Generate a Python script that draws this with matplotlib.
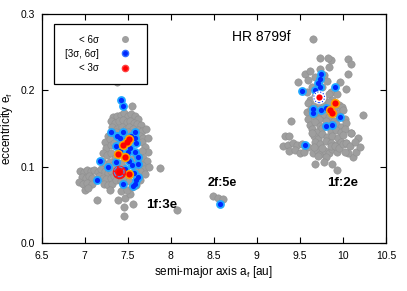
import numpy as np
import matplotlib
matplotlib.use('Agg')
import matplotlib.pyplot as plt
from matplotlib.lines import Line2D

plt.rcParams['font.family'] = ['Liberation Sans', 'DejaVu Sans']
plt.rcParams['mathtext.fontset'] = 'custom'
plt.rcParams['mathtext.rm'] = 'Liberation Sans'

# < 6 sigma solutions (grey)
grey_a = [7.37, 7.55,
          7.33, 7.38, 7.42, 7.46, 7.50, 7.54, 7.58, 7.62,
          7.30, 7.35, 7.40, 7.45, 7.49, 7.53, 7.57, 7.61, 7.65,
          7.32, 7.37, 7.43, 7.48, 7.52, 7.56, 7.62, 7.67,
          7.27, 7.31, 7.36, 7.46, 7.50, 7.64, 7.68, 7.66,
          7.23, 7.29, 7.25, 7.30, 7.34, 7.70, 7.74, 7.66,
          7.21, 7.26, 7.31, 7.35, 7.68, 7.72, 7.66,
          7.20, 7.24, 7.29, 7.33, 7.69, 7.64,
          6.95, 6.99, 7.03, 7.07, 7.11, 7.15, 7.19, 7.23, 7.27, 7.31,
          6.97, 7.01, 7.05, 7.09, 7.17, 7.21, 7.25, 7.30, 7.34,
          6.93, 6.98, 7.03, 7.08, 7.22, 7.27, 7.32,
          7.00, 7.04, 7.29, 7.36, 7.42, 7.47, 7.52,
          7.14, 7.39, 7.47, 7.456, 7.456, 7.53, 7.56, 7.42, 7.49, 7.55,
          7.60, 7.64, 7.70, 7.87, 7.75, 8.07,
          7.40, 7.45, 7.55, 7.58, 7.42, 7.50, 7.71, 7.73,
          8.49, 8.55, 8.61,
          9.656, 9.74, 9.86, 10.06, 10.09, 9.84, 9.73, 10.06, 9.48, 9.56,
          9.97, 10.04, 9.62, 9.68, 9.60, 9.78, 9.82, 9.64, 9.76, 9.58,
          9.86, 9.93, 9.83,
          9.62, 9.68, 9.78, 9.84, 9.88,
          9.60, 9.66, 9.72, 9.78, 9.84, 9.95, 9.99,
          9.58, 9.63, 9.70, 9.76, 9.82, 9.90, 9.96, 10.00,
          9.59, 9.66, 9.72, 9.78, 9.84, 9.90, 9.95, 10.02,
          9.62, 9.68, 9.74, 9.80, 9.86, 9.92, 9.98, 10.04,
          9.64, 9.70, 9.76, 9.92, 9.98, 10.03,
          9.66, 9.71, 9.76, 9.82, 9.88, 9.94, 10.00, 10.10,
          9.68, 9.74, 9.80, 9.86, 9.92, 9.98, 10.04,
          9.40, 9.33, 9.38, 9.31, 9.36, 9.42, 9.47, 9.52, 9.38, 9.44,
          9.50, 9.55, 9.60, 9.64,
          9.65, 9.70, 9.74, 9.79, 9.84, 9.88, 9.93, 9.66, 9.71, 9.76,
          9.81, 9.86, 9.91, 9.96,
          9.675, 9.78, 9.88, 9.93,
          10.00, 10.04, 10.08, 10.12, 10.15, 10.18, 10.10, 10.06, 10.20, 10.23,
          10.14, 10.02]
grey_e = [0.211, 0.180,
          0.165, 0.166, 0.168, 0.170, 0.167, 0.169, 0.166, 0.163,
          0.160, 0.158, 0.160, 0.161, 0.159, 0.160, 0.158, 0.156, 0.155,
          0.152, 0.150, 0.152, 0.150, 0.152, 0.150, 0.148, 0.147,
          0.140, 0.143, 0.146, 0.144, 0.145, 0.140, 0.138, 0.132,
          0.133, 0.137, 0.125, 0.128, 0.131, 0.126, 0.120, 0.121,
          0.118, 0.115, 0.118, 0.112, 0.112, 0.108, 0.103,
          0.108, 0.104, 0.106, 0.102, 0.097, 0.095,
          0.095, 0.093, 0.096, 0.094, 0.096, 0.093, 0.097, 0.094, 0.092, 0.095,
          0.087, 0.085, 0.088, 0.086, 0.088, 0.086, 0.084, 0.086, 0.088,
          0.080, 0.078, 0.079, 0.077, 0.078, 0.076, 0.078,
          0.070, 0.072, 0.070, 0.083, 0.082, 0.084, 0.081,
          0.056, 0.057, 0.059, 0.048, 0.036, 0.065, 0.052, 0.068, 0.070, 0.073,
          0.076, 0.083, 0.091, 0.098, 0.100, 0.043,
          0.130, 0.100, 0.110, 0.095, 0.105, 0.125, 0.150, 0.138,
          0.062, 0.059, 0.058,
          0.267, 0.242, 0.240, 0.241, 0.234, 0.231, 0.228, 0.221, 0.211, 0.222,
          0.211, 0.202, 0.225, 0.218, 0.213, 0.220, 0.212, 0.205, 0.205, 0.198,
          0.198, 0.195, 0.242,
          0.188, 0.193, 0.189, 0.195, 0.187,
          0.184, 0.180, 0.183, 0.179, 0.185, 0.181, 0.178,
          0.172, 0.176, 0.171, 0.168, 0.163, 0.176, 0.171, 0.174,
          0.163, 0.167, 0.162, 0.169, 0.165, 0.160, 0.166, 0.162,
          0.155, 0.159, 0.154, 0.160, 0.147, 0.156, 0.152, 0.157,
          0.149, 0.146, 0.151, 0.148, 0.145, 0.149,
          0.140, 0.137, 0.143, 0.139, 0.141, 0.138, 0.142, 0.144,
          0.132, 0.130, 0.134, 0.131, 0.129, 0.133, 0.131,
          0.160, 0.141, 0.141, 0.127, 0.129, 0.131, 0.128, 0.130, 0.121, 0.122,
          0.118, 0.120, 0.126, 0.144,
          0.118, 0.122, 0.117, 0.121, 0.118, 0.123, 0.119, 0.126, 0.114, 0.125,
          0.113, 0.127, 0.127, 0.125,
          0.104, 0.106, 0.104, 0.096,
          0.130, 0.131, 0.127, 0.113, 0.120, 0.138, 0.144, 0.118, 0.126, 0.168,
          0.132, 0.120]

# [3 sigma, 6 sigma] solutions (blue)
blue_a = [7.42, 7.44, 7.30, 7.59, 7.41, 7.54, 7.60, 7.41, 7.58, 7.62,
          7.53, 7.18, 7.27, 7.62, 7.55, 7.62, 7.58, 7.14, 7.45, 7.56,
          7.60, 7.48, 7.36, 7.52, 7.47, 7.57, 7.36, 7.50, 7.44, 7.38, 7.58,
          8.57,
          9.745, 9.73, 9.71, 9.73, 9.52, 9.675, 9.91, 9.656, 9.65, 9.745,
          9.81, 9.97, 9.80, 9.87, 9.56]
blue_e = [0.188, 0.180, 0.145, 0.146, 0.138, 0.141, 0.131, 0.121, 0.120, 0.113,
          0.125, 0.108, 0.100, 0.104, 0.102, 0.087, 0.077, 0.083, 0.077, 0.075,
          0.083, 0.135, 0.127, 0.108, 0.097, 0.092, 0.106, 0.120, 0.146, 0.140, 0.138,
          0.051,
          0.222, 0.215, 0.210, 0.205, 0.199, 0.200, 0.204, 0.176, 0.170, 0.175,
          0.1775, 0.165, 0.153, 0.1545, 0.129]

# < 3 sigma solutions (red)
red_a = [7.51, 7.45, 7.39, 7.47, 7.51, 7.49, 9.91, 9.85, 9.87]
red_e = [0.137, 0.129, 0.117, 0.113, 0.090, 0.132, 0.184, 0.175, 0.170]

# best fits (circled)
best_a = [7.40, 9.725]
best_e = [0.0935, 0.191]

fig = plt.figure(figsize=(4.07, 2.91), dpi=100)
ax = fig.add_axes([0.1025, 0.164, 0.8455, 0.788])

ax.scatter(grey_a, grey_e, s=28, c='#9e9e9e', edgecolors='#909090', linewidths=0.4, zorder=2)
ax.scatter(blue_a, blue_e, s=40, c='#20a8ff', linewidths=0, zorder=3)
ax.scatter(blue_a, blue_e, s=14, c='#0028ff', linewidths=0, zorder=4)
ax.scatter(red_a, red_e, s=46, c='#ffa000', linewidths=0, zorder=5)
ax.scatter(red_a, red_e, s=20, c='#ff0000', linewidths=0, zorder=6)

# circled best fits
ax.scatter(best_a[:1], best_e[:1], s=95, c='#ff1010', linewidths=0, zorder=7)
ax.scatter(best_a[1:], best_e[1:], s=95, c='white', linewidths=0, zorder=7)
ax.scatter(best_a[:1], best_e[:1], s=50, facecolors='none', edgecolors='#40a0ff',
           linewidths=0.8, linestyles='--', zorder=8)
ax.scatter(best_a[1:], best_e[1:], s=60, facecolors='none', edgecolors='#0030ff',
           linewidths=0.8, linestyles=':', zorder=8)
ax.scatter(best_a, best_e, s=20, c='#ff0000', linewidths=0, zorder=9)

ax.text(9.055, 0.27, 'HR 8799f', fontsize=10, ha='center', va='center')
ax.text(7.90, 0.050, '1f:3e', fontsize=9.5, fontweight='bold', ha='center', va='center')
ax.text(8.60, 0.079, '2f:5e', fontsize=9, fontweight='bold', ha='center', va='center')
ax.text(10.0, 0.079, '1f:2e', fontsize=9.5, fontweight='bold', ha='center', va='center')

ax.set_xlim(6.5, 10.5)
ax.set_ylim(0, 0.3)
ax.set_xticks([6.5, 7, 7.5, 8, 8.5, 9, 9.5, 10, 10.5])
ax.set_xticklabels(['6.5', '7', '7.5', '8', '8.5', '9', '9.5', '10', '10.5'])
ax.set_yticks([0, 0.1, 0.2, 0.3])
ax.set_yticklabels(['0.0', '0.1', '0.2', '0.3'])
ax.tick_params(direction='in', top=True, right=True, length=4.5, width=0.8,
               labelsize=7.5)
ax.tick_params(axis='x', pad=5.5)
ax.tick_params(axis='y', pad=4.5)
for sp in ax.spines.values():
    sp.set_linewidth(0.9)

ax.set_xlabel('semi-major axis a$_\\mathrm{f}$ [au]', fontsize=8.5, labelpad=2)
ax.set_ylabel('eccentricity e$_\\mathrm{f}$', fontsize=8.5, labelpad=4)

handles = [Line2D([], [], ls='none', marker='o', ms=4, mfc='#a0a0a0', mec='#a0a0a0'),
           Line2D([], [], ls='none', marker='o', ms=4.5, mfc='#0028ff', mec='#3070ff'),
           Line2D([], [], ls='none', marker='o', ms=4.5, mfc='#ff0000', mec='#ff4040')]
labels = ['< 6σ', '[3σ, 6σ]', '< 3σ']
leg = ax.legend(handles, labels, loc='upper left', bbox_to_anchor=(0.036, 0.957),
                borderaxespad=0, markerfirst=False, fontsize=7, frameon=True,
                fancybox=False, edgecolor='black', framealpha=1,
                borderpad=1.1, labelspacing=0.45, handlelength=2.4, handletextpad=1.5)
leg.get_frame().set_linewidth(0.9)

fig.savefig('out.png', dpi=100)
